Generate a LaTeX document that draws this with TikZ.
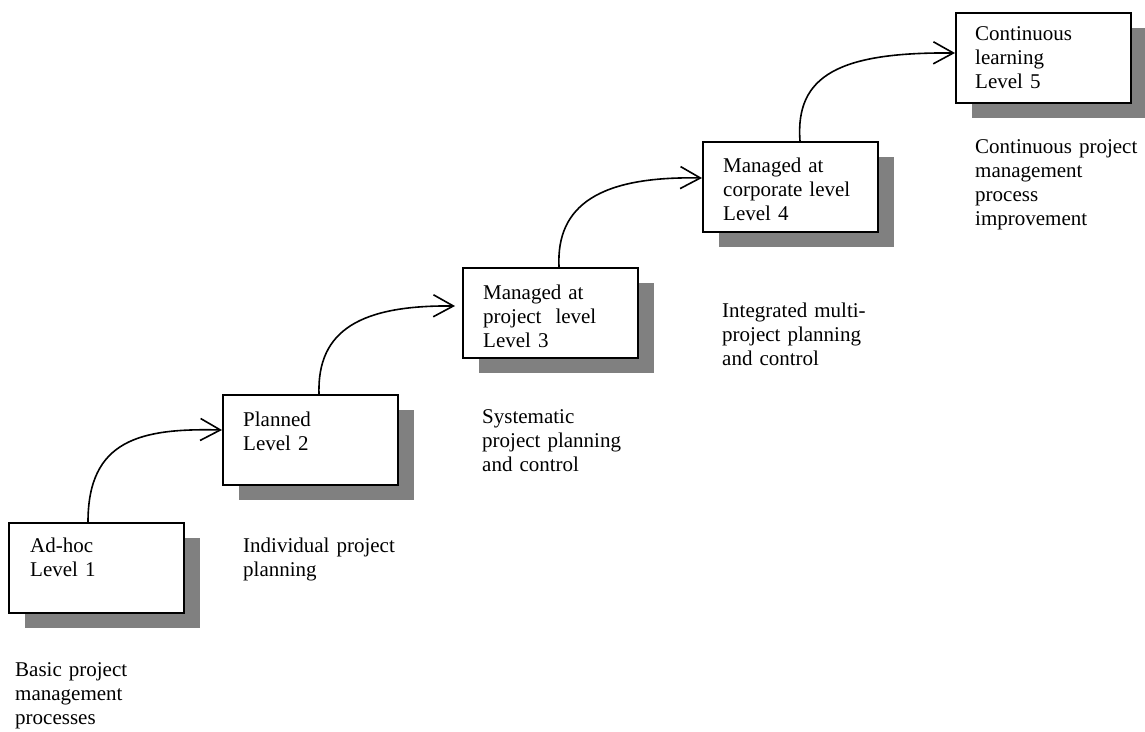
\documentclass[tikz,border=0pt]{standalone}
\usepackage{fontspec}
\setmainfont{Liberation Serif}
\usetikzlibrary{arrows.meta,shadows}
\begin{document}
\begin{tikzpicture}[x=1pt,y=-1pt,
  box/.style={draw=black, line width=1.8pt, fill=white, minimum width=175pt, minimum height=90pt,
    inner sep=0pt, anchor=north west,
    drop shadow={shadow xshift=16pt, shadow yshift=-15pt, fill=black!50, opacity=1}},
  boxtext/.style={anchor=base west, inner sep=0pt, text width=160pt, align=left,
    font=\fontsize{21}{24.2}\selectfont},
  lbl/.style={anchor=base west, inner sep=0pt, text width=200pt, align=left,
    font=\fontsize{21}{24.2}\selectfont},
  conn/.style={line width=1.6pt, -{Straight Barb[length=20pt,width=22pt,line width=1.6pt]}}]
\useasboundingbox (0,0) rectangle (1145,731);

\node[box] (b1) at (8,522) {};
\node[box] (b2) at (222,394) {};
\node[box] (b3) at (462,267) {};
\node[box] (b4) at (702,141) {};
\node[box] (b5) at (955,12) {};

\node[boxtext] (t1) at ([shift={(22,30)}]b1.north west) {Ad-hoc\\Level 1};
\node[boxtext] (t2) at ([shift={(21,32)}]b2.north west) {Planned\\Level 2};
\node[boxtext] (t3) at ([shift={(21,32)}]b3.north west) {Managed at\\project\ \ level\\Level 3};
\node[boxtext] (t4) at ([shift={(21,31)}]b4.north west) {Managed at\\corporate level\\Level 4};
\node[boxtext] (t5) at ([shift={(20,28)}]b5.north west) {Continuous\\learning\\Level 5};

\node[lbl] (l1) at (15,676) {Basic project\\management\\processes};
\node[lbl] (l2) at (243,552) {Individual project\\planning};
\node[lbl] (l3) at (482,423) {Systematic\\project planning\\and control};
\node[lbl] (l4) at (722,317) {Integrated multi-\\project planning\\and control};
\node[lbl] (l5) at (975,153) {Continuous project\\management\\process\\improvement};

\draw[conn] ([shift={(80,0)}]b1.north west) .. controls +(0,-82) and +(-82,-2) .. ([shift={(0,36)}]b2.north west);
\draw[conn] ([shift={(97,0)}]b2.north west) .. controls +(-2,-64) and +(-94,-1) .. ([shift={(-7,39)}]b3.north west);
\draw[conn] ([shift={(97,0)}]b3.north west) .. controls +(-3,-62) and +(-102,-2) .. ([shift={(0,37)}]b4.north west);
\draw[conn] ([shift={(98,0)}]b4.north west) .. controls +(-5,-66) and +(-115,-1) .. ([shift={(0,41)}]b5.north west);
\end{tikzpicture}
\end{document}
